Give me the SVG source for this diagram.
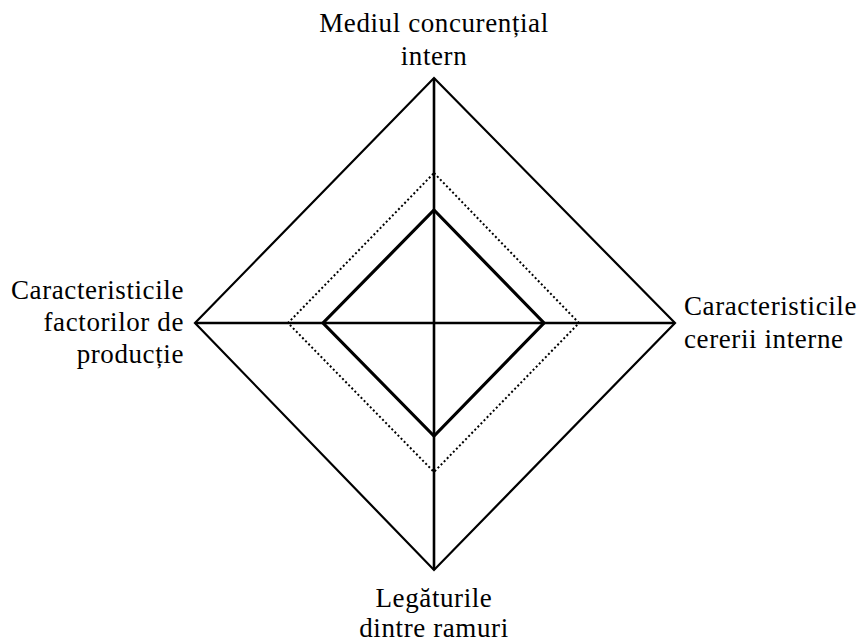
<svg xmlns="http://www.w3.org/2000/svg" width="861" height="643" viewBox="0 0 861 643">
  <style>
    .lbl { font-family: "Liberation Serif", "DejaVu Serif", serif; font-size: 27px; fill: #000; letter-spacing: 0.6px; }
    .outer { fill: none; stroke: #000; stroke-width: 2.2; stroke-linejoin: miter; }
    .axis { fill: none; stroke: #000; stroke-width: 2.6; }
    .dotted { fill: none; stroke: #000; stroke-width: 2; stroke-dasharray: 2 2.4; }
    .inner { fill: none; stroke: #000; stroke-width: 3.2; stroke-linejoin: miter; }
  </style>
  <rect width="861" height="643" fill="#fff"/>

  <g id="connectors">
    <!-- outer diamond -->
    <polygon class="outer" points="434,78 675,323 434,570 195,323"/>
    <!-- axes -->
    <line class="axis" x1="434" y1="78" x2="434" y2="570"/>
    <line class="axis" x1="195" y1="323" x2="675" y2="323"/>
    <!-- dotted level -->
    <polygon class="dotted" points="434,173 579,323 434,472 288,323"/>
    <!-- solid inner level -->
    <polygon class="inner" points="434,210 544,323 434,436 323,323"/>
  </g>

  <g id="node-top">
    <text class="lbl" x="434" y="32" text-anchor="middle">Mediul concurențial</text>
    <text class="lbl" x="434" y="65" text-anchor="middle">intern</text>
  </g>

  <g id="node-left">
    <text class="lbl" x="184" y="299" text-anchor="end">Caracteristicile</text>
    <text class="lbl" x="184" y="331" text-anchor="end">factorilor de</text>
    <text class="lbl" x="184" y="363" text-anchor="end">producție</text>
  </g>

  <g id="node-right">
    <text class="lbl" x="684" y="315">Caracteristicile</text>
    <text class="lbl" x="684" y="348">cererii interne</text>
  </g>

  <g id="node-bottom">
    <text class="lbl" x="434" y="607" text-anchor="middle">Legăturile</text>
    <text class="lbl" x="434" y="637" text-anchor="middle">dintre ramuri</text>
  </g>
</svg>
